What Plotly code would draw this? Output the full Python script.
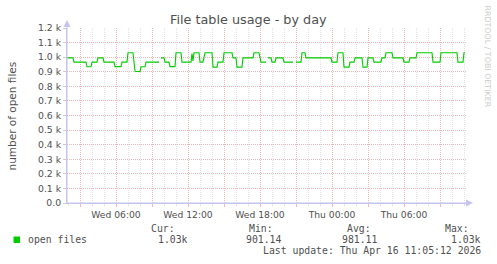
import plotly.graph_objects as go
import pandas as pd

# ---------------- data ----------------
times = [
    "2026-04-15 01:55", "2026-04-15 02:25",
    "2026-04-15 02:30", "2026-04-15 03:30",
    "2026-04-15 03:35", "2026-04-15 03:55",
    "2026-04-15 04:00", "2026-04-15 04:25",
    "2026-04-15 04:30", "2026-04-15 04:55",
    "2026-04-15 05:00", "2026-04-15 05:50",
    "2026-04-15 05:55", "2026-04-15 06:25",
    "2026-04-15 06:30", "2026-04-15 06:55",
    "2026-04-15 07:00", "2026-04-15 07:25",
    "2026-04-15 07:35", "2026-04-15 08:00",
    "2026-04-15 08:05", "2026-04-15 08:25",
    "2026-04-15 08:30", "2026-04-15 09:35",
    "2026-04-15 09:40",
    "2026-04-15 09:45", "2026-04-15 10:00",
    "2026-04-15 10:05", "2026-04-15 10:25",
    "2026-04-15 10:30", "2026-04-15 10:55",
    "2026-04-15 11:00", "2026-04-15 11:25",
    "2026-04-15 11:30", "2026-04-15 12:15",
    "2026-04-15 12:20", "2026-04-15 12:25",
    "2026-04-15 12:30", "2026-04-15 12:55",
    "2026-04-15 13:00", "2026-04-15 13:15",
    "2026-04-15 13:25", "2026-04-15 14:00",
    "2026-04-15 14:05", "2026-04-15 14:25",
    "2026-04-15 14:30", "2026-04-15 14:55",
    "2026-04-15 15:00", "2026-04-15 15:40",
    "2026-04-15 15:45", "2026-04-15 16:00",
    "2026-04-15 16:05", "2026-04-15 16:30",
    "2026-04-15 16:35", "2026-04-15 17:25",
    "2026-04-15 17:30", "2026-04-15 17:55",
    "2026-04-15 18:05", "2026-04-15 18:30",
    "2026-04-15 18:35",
    "2026-04-15 18:40", "2026-04-15 18:55",
    "2026-04-15 19:00", "2026-04-15 19:15",
    "2026-04-15 19:20", "2026-04-15 19:55",
    "2026-04-15 20:00", "2026-04-15 20:45",
    "2026-04-15 20:50",
    "2026-04-15 21:00", "2026-04-15 21:25",
    "2026-04-15 21:30", "2026-04-15 21:45",
    "2026-04-15 21:50", "2026-04-15 23:55",
    "2026-04-16 00:00", "2026-04-16 00:25",
    "2026-04-16 00:30", "2026-04-16 00:55",
    "2026-04-16 01:00", "2026-04-16 01:25",
    "2026-04-16 01:30", "2026-04-16 01:50",
    "2026-04-16 01:55", "2026-04-16 02:30",
    "2026-04-16 02:35", "2026-04-16 02:55",
    "2026-04-16 03:00", "2026-04-16 03:25",
    "2026-04-16 03:30", "2026-04-16 04:05",
    "2026-04-16 04:10", "2026-04-16 04:25",
    "2026-04-16 04:30", "2026-04-16 05:00",
    "2026-04-16 05:05", "2026-04-16 05:55",
    "2026-04-16 06:00", "2026-04-16 06:25",
    "2026-04-16 06:30", "2026-04-16 07:00",
    "2026-04-16 07:05", "2026-04-16 08:20",
    "2026-04-16 08:25", "2026-04-16 09:00",
    "2026-04-16 09:05", "2026-04-16 10:25",
    "2026-04-16 10:30", "2026-04-16 10:55",
    "2026-04-16 11:00", "2026-04-16 11:05",
]
open_files = [
    995, 995,
    966, 966,
    934, 934,
    966, 966,
    995, 995,
    966, 966,
    935, 935,
    966, 966,
    1030, 1030,
    903, 901,
    934, 934,
    966, 966,
    None,
    995, 995,
    966, 966,
    935, 935,
    1030, 1030,
    966, 966,
    1025, 975,
    1030, 1030,
    966, 966,
    1030, 1030,
    932, 932,
    966, 966,
    1030, 1030,
    995, 995,
    932, 932,
    995, 995,
    1030, 1030,
    966, 966,
    None,
    995, 995,
    966, 966,
    995, 995,
    966, 966,
    None,
    966, 966,
    1030, 1030,
    995, 995,
    966, 966,
    1030, 1030,
    932, 932,
    966, 966,
    995, 995,
    932, 932,
    995, 995,
    966, 966,
    995, 995,
    1030, 1030,
    995, 995,
    966, 966,
    995, 995,
    1030, 1030,
    966, 966,
    1030, 1030,
    966, 966,
    1030, 1030,
]

x_range = ["2026-04-15 01:55", "2026-04-16 11:15"]
y_ticks = [0, 100, 200, 300, 400, 500, 600, 700, 800, 900, 1000, 1100, 1200]
y_ticktext = ["0.0" if v == 0 else f"{v/1000:.1f} k" for v in y_ticks]

legend_name = "open files"
stat_labels = ["Cur:", "Min:", "Avg:", "Max:"]
stat_values = ["1.03k", "901.14", "981.11", "1.03k"]
last_update = "Last update: Thu Apr 16 11:05:12 2026"
title = "File table usage - by day"
y_title = "number of open files"
watermark = "RRDTOOL / TOBI OETIKER"

# major (3h) ticks, labelled every 6h
major = pd.date_range("2026-04-15 03:00", "2026-04-16 09:00", freq="3h")
x_tickvals = list(major)
x_ticktext = [d.strftime("%a %H:%M") if d.hour % 6 == 0 else "" for d in major]

# ---------------- layout geometry (pixels) ----------------
W, H = 497, 264
L, R, T, B = 67, 467, 28, 203


def px(x):
    return (x - L) / (R - L)


def py(y):
    return (B - y) / (B - T)


TXT = "#505050"
AXIS = "#c4c4ee"
GREEN = "#00cc00"
MGRID = "#f2b4b4"
GRID = "#e2e2e2"

fig = go.Figure()
fig.add_trace(go.Scatter(
    x=times, y=open_files, mode="lines",
    line=dict(color=GREEN, width=1.1),
    connectgaps=False, showlegend=False, hoverinfo="skip",
))

fig.update_layout(
    width=W, height=H,
    margin=dict(l=L, r=W - R, t=T, b=H - B, pad=0),
    paper_bgcolor="white", plot_bgcolor="white",
    showlegend=False,
    font=dict(family="DejaVu Sans", color=TXT),
)

fig.update_xaxes(
    type="date", range=x_range,
    tickmode="array", tickvals=x_tickvals, ticktext=x_ticktext,
    showgrid=True, gridcolor=MGRID, griddash="1px,1px", gridwidth=1,
    ticks="outside", ticklen=3, tickcolor=MGRID,
    tickfont=dict(family="DejaVu Sans", size=9.2, color=TXT),
    showline=True, linecolor=AXIS, linewidth=1,
    zeroline=False,
    minor=dict(dtick=3600000, tick0="2026-04-15 00:00", showgrid=True,
               gridcolor=GRID, griddash="1px,1px", gridwidth=1,
               ticks="outside", ticklen=2, tickcolor=GRID),
)
fig.update_yaxes(
    range=[0, 1200], tickmode="array", tickvals=y_ticks, ticktext=y_ticktext,
    showgrid=True, gridcolor=MGRID, griddash="1px,1px", gridwidth=1,
    ticks="outside", ticklen=3, tickcolor="#cccccc",
    tickfont=dict(family="DejaVu Sans", size=9.3, color=TXT),
    showline=True, linecolor=AXIS, linewidth=1, zeroline=False,
)

shapes = []
# y axis extension + arrow
shapes.append(dict(type="line", xref="paper", yref="paper",
                   x0=px(67), x1=px(67), y0=py(203), y1=py(22),
                   line=dict(color=AXIS, width=1)))
shapes.append(dict(type="path", xref="paper", yref="paper",
                   path=f"M {px(63.5)} {py(27)} L {px(67)} {py(20)} L {px(70.5)} {py(27)} Z",
                   fillcolor=AXIS, line=dict(width=0)))
# x axis extension + arrow
shapes.append(dict(type="line", xref="paper", yref="paper",
                   x0=px(67), x1=px(471), y0=py(203), y1=py(203),
                   line=dict(color=AXIS, width=1)))
shapes.append(dict(type="path", xref="paper", yref="paper",
                   path=f"M {px(466)} {py(199.5)} L {px(473)} {py(203)} L {px(466)} {py(206.5)} Z",
                   fillcolor=AXIS, line=dict(width=0)))
# legend swatch
shapes.append(dict(type="rect", xref="paper", yref="paper",
                   x0=px(13.5), x1=px(20), y0=py(236.5), y1=py(243),
                   fillcolor=GREEN, line=dict(width=0)))
fig.update_layout(shapes=shapes)

ann = []


def add_text(text, x, y, xanchor="left", size=9.8, family="DejaVu Sans Mono",
             color=TXT, angle=0):
    ann.append(dict(text=text, x=px(x), y=py(y), xref="paper", yref="paper",
                    xanchor=xanchor, yanchor="middle", showarrow=False,
                    textangle=angle, font=dict(family=family, size=size, color=color)))


add_text(title, 248.5, 19, xanchor="center", size=12.8, family="DejaVu Sans")
add_text(y_title, 11, 115.5, xanchor="center", size=10.5, family="DejaVu Sans", angle=-90)
add_text(watermark, 487.5, 56, xanchor="center", size=7.9, family="DejaVu Sans",
         color="#cccccc", angle=90)

add_text(legend_name, 26, 239.5)
label_right = [177, 275, 372.5, 471]
value_right = [190, 282.5, 378.5, 483]
for lab, val, xl, xv in zip(stat_labels, stat_values, label_right, value_right):
    add_text(lab, xl, 228, xanchor="right")
    add_text(val, xv, 239.5, xanchor="right")
add_text(last_update, 483, 250.5, xanchor="right")

fig.update_layout(annotations=ann)

fig.write_html("out.html")
